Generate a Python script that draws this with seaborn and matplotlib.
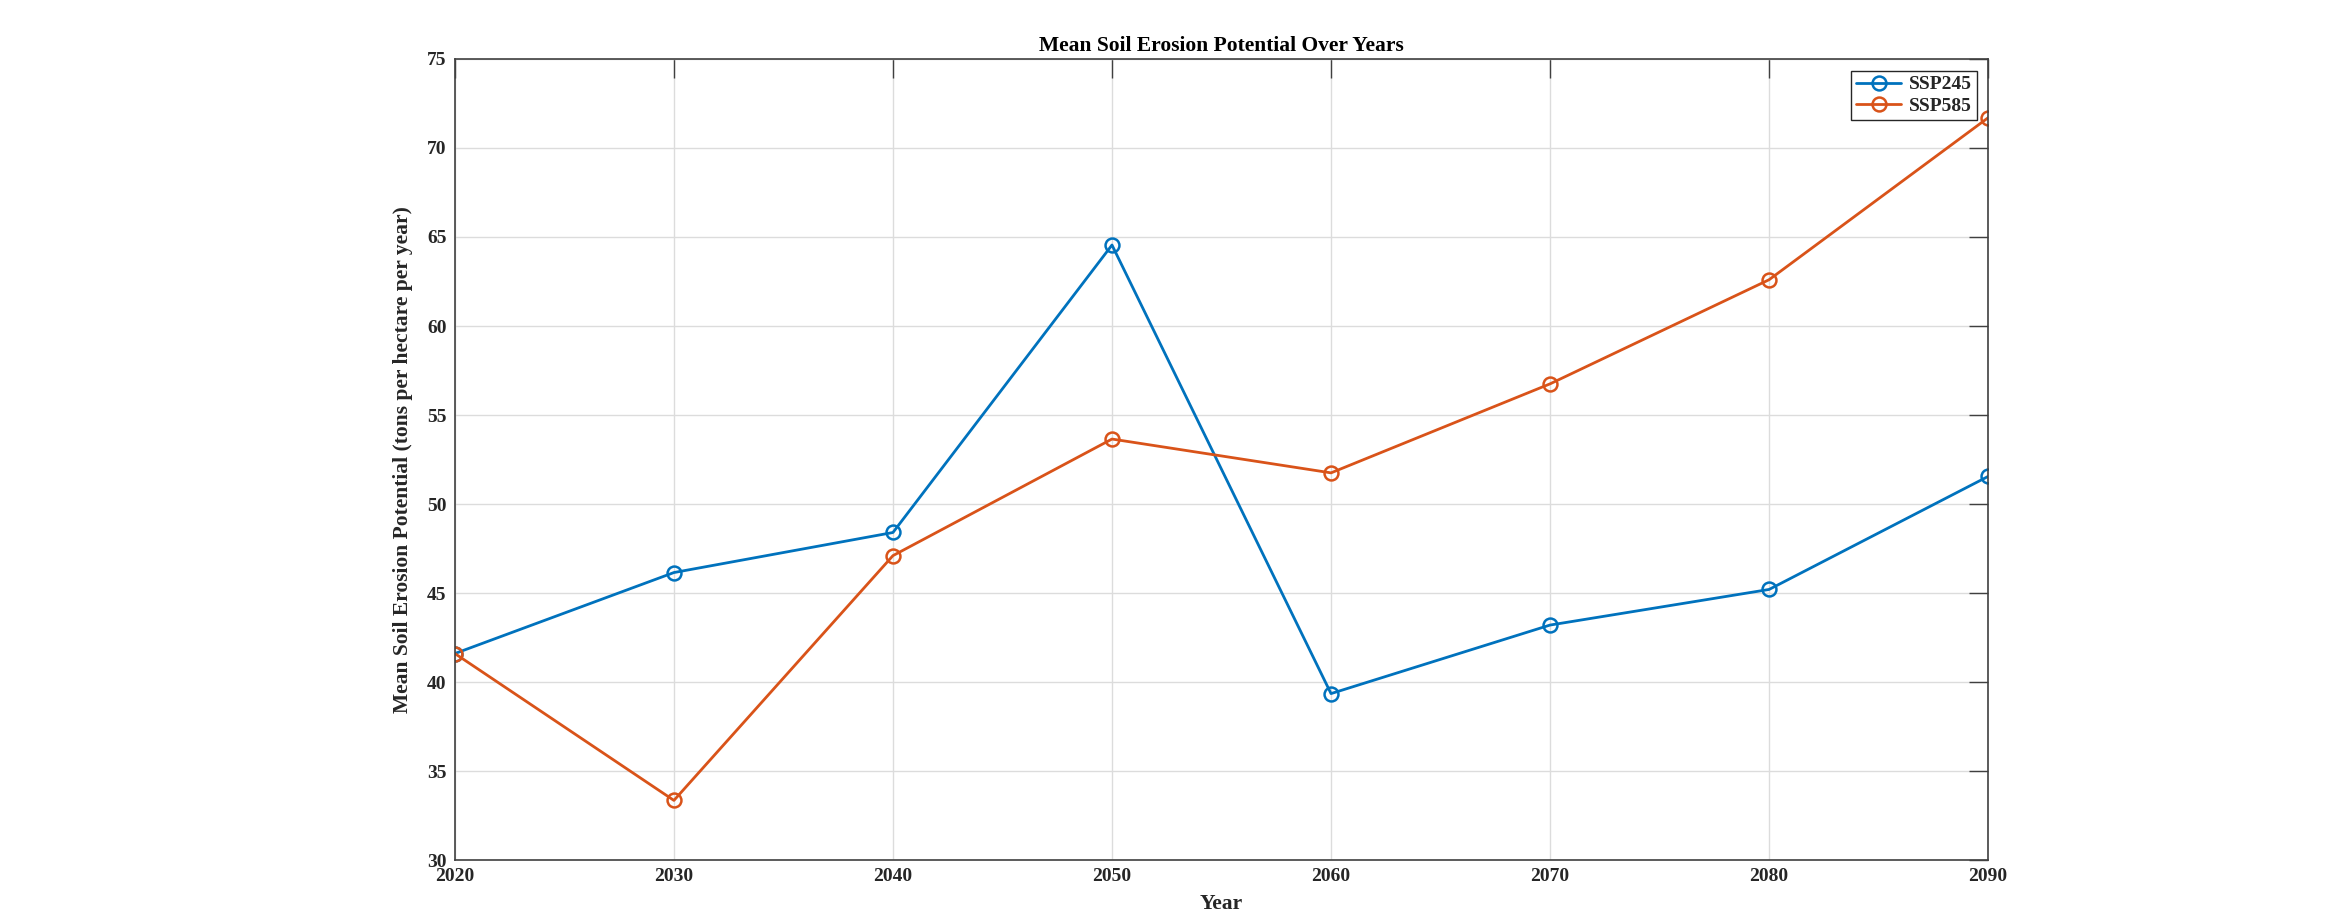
import numpy as np
import pandas as pd
import matplotlib
matplotlib.use("Agg")
import matplotlib.pyplot as plt
import seaborn as sns

years = [2020, 2030, 2040, 2050, 2060, 2070, 2080, 2090]
ssp245 = [41.6, 46.15, 48.4, 64.55, 39.35, 43.2, 45.2, 51.55]
ssp585 = [41.6, 33.35, 47.1, 53.65, 51.75, 56.75, 62.6, 71.7]
series_names = ["SSP245", "SSP585"]
colors = ["#0072BD", "#D95319"]

sns.set_style("white")
plt.rcParams["font.family"] = ["Liberation Serif", "DejaVu Serif"]
plt.rcParams["font.weight"] = "bold"

fig = plt.figure(figsize=(23.28, 9.16), dpi=100)
ax = fig.add_axes([0.1954, 0.0611, 0.6586, 0.8745])

for name, vals, c in zip(series_names, [ssp245, ssp585], colors):
    df = pd.DataFrame({"Year": years, "Value": vals})
    sns.lineplot(data=df, x="Year", y="Value", ax=ax, color=c, label=name,
                 marker="o", markersize=10, markerfacecolor="none",
                 markeredgecolor=c, markeredgewidth=1.8, linewidth=2.0)

ax.set_xlim(2020, 2090)
ax.set_ylim(30, 75)
ax.set_xticks(years)
ax.set_yticks(np.arange(30, 76, 5))
ax.grid(True, color="#dcdcdc", linewidth=1.0)
ax.set_axisbelow(True)

for s in ax.spines.values():
    s.set_color("#404040")
    s.set_linewidth(1.2)
ax.tick_params(axis="both", direction="in", length=14, width=1.0, color="#404040",
               top=True, right=True, labelsize=14, labelcolor="#262626", pad=6)
for lbl in ax.get_xticklabels() + ax.get_yticklabels():
    lbl.set_fontweight("bold")

ax.set_xlabel("Year", fontsize=15.5, fontweight="bold", color="#262626", labelpad=6)
ax.set_ylabel("Mean Soil Erosion Potential (tons per hectare per year)", fontsize=15.5,
              fontweight="bold", color="#262626", labelpad=10)
ax.set_title("Mean Soil Erosion Potential Over Years", fontsize=15.5, fontweight="bold",
             color="black", pad=6)

leg = ax.legend(loc="upper right", bbox_to_anchor=(0.9925, 0.985), fancybox=False,
                framealpha=1, edgecolor="#262626", fontsize=14, handlelength=2.3,
                borderpad=0.25, labelspacing=0.2, handletextpad=0.4, borderaxespad=0)
leg.get_frame().set_linewidth(1.0)
for t in leg.get_texts():
    t.set_fontweight("bold")

fig.savefig("out.png", dpi=100, facecolor="white")
